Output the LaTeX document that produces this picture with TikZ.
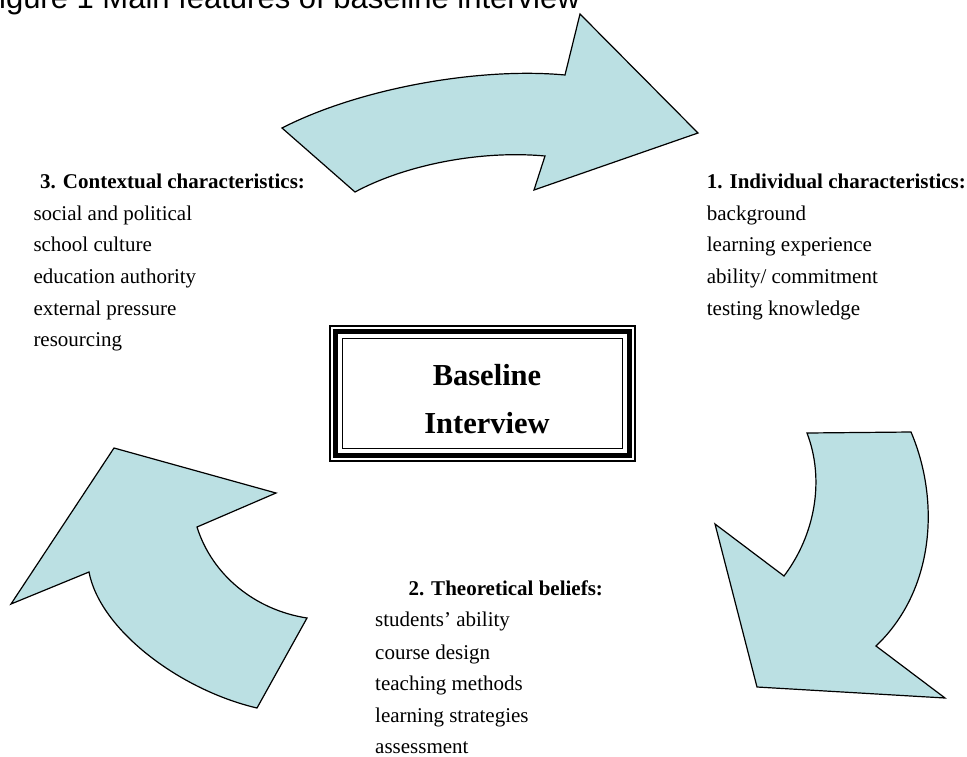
\documentclass[tikz,border=0pt]{standalone}
\usepackage{fontspec}
\setmainfont{Liberation Serif}
\newfontfamily\titlefont{Liberation Sans}
\definecolor{arrowfill}{RGB}{187,224,227}
\begin{document}
\begin{tikzpicture}[x=1pt,y=-1pt,
  arrowshape/.style={fill=arrowfill, draw=black, line width=1.2pt, line join=miter},
  bodytext/.style={anchor=base west, inner sep=0pt, font=\fontsize{21}{25}\selectfont},
  headtext/.style={anchor=base west, inner sep=0pt, font=\fontsize{21}{25}\selectfont\bfseries},
  boxtext/.style={anchor=base, inner sep=0pt, font=\fontsize{30.5}{36}\selectfont\bfseries},
  titletext/.style={anchor=base west, inner sep=0pt, font=\titlefont\fontsize{31}{36}\selectfont}]
\useasboundingbox (0,0) rectangle (967,756);

% title (cut at the top of the page)
\node[titletext] (title) at (-20,8) {Figure 1 Main features of baseline interview};

% top arrow
\path[arrowshape] (282,128) -- (355,192)
  .. controls (405,165) and (480,150) .. (545,156)
  -- (534,190) -- (698,133) -- (580,14) -- (565,75)
  .. controls (480,67) and (360,88) .. (282,128) -- cycle;

% right arrow
\path[arrowshape] (807,433) -- (911,432)
  .. controls (940,500) and (935,590) .. (876,646)
  -- (945,698) -- (757,687) -- (715,524) -- (784,576)
  .. controls (815,535) and (825,480) .. (807,433) -- cycle;

% left arrow
\path[arrowshape] (114,448) -- (276,493) -- (197,527)
  .. controls (212,575) and (255,610) .. (307,618)
  -- (257,708)
  .. controls (180,690) and (100,630) .. (89,572)
  -- (11,604) -- cycle;

% central box
\node[draw, line width=1.5pt, minimum width=305.4pt, minimum height=135.4pt, inner sep=0pt] (box) at (482.5,393.5) {};
\draw[line width=5pt] ([xshift=6.5pt,yshift=-6.5pt]box.north west) rectangle ([xshift=-6.5pt,yshift=6.5pt]box.south east);
\draw[line width=1.5pt] ([xshift=13.5pt,yshift=-13.5pt]box.north west) rectangle ([xshift=-13.5pt,yshift=13.5pt]box.south east);
\node[boxtext] (bl1) at (487,385) {Baseline};
\node[boxtext] (bl2) at (487,433) {Interview};

% group 1
\node[headtext] (h1) at (706.7,188.3) {1. Individual characteristics:};
\node[bodytext] (a1) at (706.7,220) {background};
\node[bodytext] (a2) at (706.7,251.7) {learning experience};
\node[bodytext] (a3) at (706.7,283.3) {ability/ commitment};
\node[bodytext] (a4) at (706.7,315) {testing knowledge};

% group 3
\node[headtext] (h3) at (40,188.3) {3. Contextual characteristics:};
\node[bodytext] (c1) at (33.3,220) {social and political};
\node[bodytext] (c2) at (33.3,251.7) {school culture};
\node[bodytext] (c3) at (33.3,283.3) {education authority};
\node[bodytext] (c4) at (33.3,315) {external pressure};
\node[bodytext] (c5) at (33.3,346.7) {resourcing};

% group 2
\node[headtext] (h2) at (408.3,595) {2. Theoretical beliefs:};
\node[bodytext] (t1) at (375,626.7) {students’ ability};
\node[bodytext] (t2) at (375,659) {course design};
\node[bodytext] (t3) at (375,690.7) {teaching methods};
\node[bodytext] (t4) at (375,722.3) {learning strategies};
\node[bodytext] (t5) at (375,753.3) {assessment};
\end{tikzpicture}
\end{document}
